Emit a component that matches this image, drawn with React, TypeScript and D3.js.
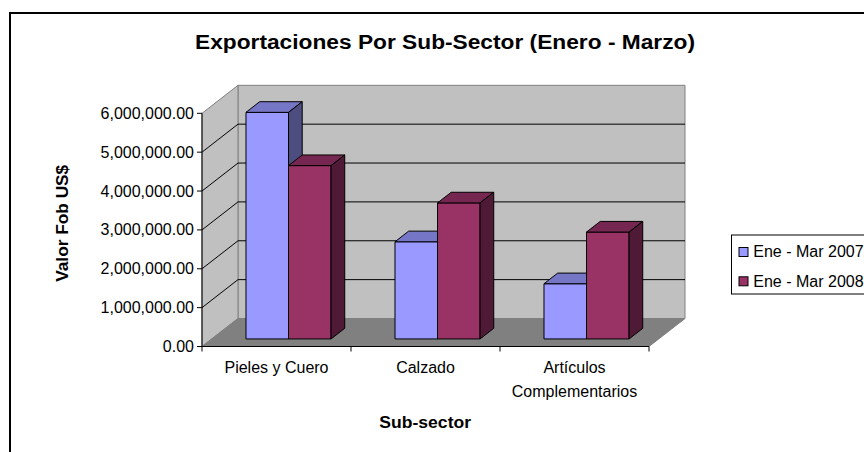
import React from "react";
import * as d3 from "d3";

const categories = ["Pieles y Cuero", "Calzado", "Artículos Complementarios"];
const categoryLines = [["Pieles y Cuero"], ["Calzado"], ["Artículos", "Complementarios"]];
const seriesNames = ["Ene - Mar 2007", "Ene - Mar 2008"];
const values2007 = [5830000, 2500000, 1420000];
const values2008 = [4460000, 3500000, 2750000];
const yTicks = [0, 1000000, 2000000, 3000000, 4000000, 5000000, 6000000];
const title = "Exportaciones Por Sub-Sector (Enero - Marzo)";
const yTitle = "Valor Fob US$";
const xTitle = "Sub-sector";

const FONT = "'Liberation Sans', Arial, sans-serif";
const W = 864;
const H = 452;

const frontLeft = 202;
const frontRight = 649;
const baseY = 346.5;
const topY = 113.3;
const DX = 36;
const DY = -28;
const Z0 = 0.27;
const Z1 = 0.65;

const seriesColors = [
  { front: "#9999FF", top: "#7676C6", side: "#4D4D80" },
  { front: "#993366", top: "#752752", side: "#4E1A35" },
];

export default function App() {
  const y = d3.scaleLinear().domain([0, 6000000]).range([baseY, topY]);
  const x0 = d3.scaleBand<string>().domain(categories).range([frontLeft, frontRight]).padding(0);
  const bw = x0.bandwidth();
  const x1 = d3
    .scaleBand<string>()
    .domain(seriesNames)
    .range([0.23 * bw, 0.23 * bw + 2 * 0.2855 * bw])
    .padding(0);
  const fmt = d3.format(",.2f");
  const series = [values2007, values2008];

  const p = (xv: number, v: number, z: number): [number, number] => [xv + z * DX, y(v) + z * DY];
  const poly = (pts: [number, number][]) => pts.map((q) => q.join(",")).join(" ");

  const backWall = poly([
    p(frontLeft, 0, 1),
    p(frontRight, 0, 1),
    p(frontRight, 6000000, 1),
    p(frontLeft, 6000000, 1),
  ]);
  const sideWall = poly([p(frontLeft, 0, 0), p(frontLeft, 0, 1), p(frontLeft, 6000000, 1), p(frontLeft, 6000000, 0)]);
  const floor = poly([p(frontLeft, 0, 0), p(frontRight, 0, 0), p(frontRight, 0, 1), p(frontLeft, 0, 1)]);

  const bars: JSX.Element[] = [];
  categories.forEach((c, ci) => {
    seriesNames.forEach((s, si) => {
      const v = series[si][ci];
      const a = (x0(c) as number) + (x1(s) as number);
      const b = a + x1.bandwidth();
      const col = seriesColors[si];
      bars.push(
        <g key={c + s} stroke="#000" strokeWidth={1} strokeLinejoin="round">
          <polygon points={poly([p(a, 0, Z0), p(b, 0, Z0), p(b, v, Z0), p(a, v, Z0)])} fill={col.front} />
          <polygon points={poly([p(a, v, Z0), p(b, v, Z0), p(b, v, Z1), p(a, v, Z1)])} fill={col.top} />
          <polygon points={poly([p(b, 0, Z0), p(b, 0, Z1), p(b, v, Z1), p(b, v, Z0)])} fill={col.side} />
        </g>
      );
    });
  });

  const catTicks = [...categories.map((c) => x0(c) as number), frontRight];

  return (
    <svg
      width={W}
      height={H}
      style={{ position: "absolute", left: 0, top: 0, background: "#fff" }}
      fontFamily={FONT}
    >
      <rect x={0} y={0} width={W} height={H} fill="#fff" />
      <rect x={10} y={13} width={900} height={500} fill="#fff" stroke="#000" strokeWidth={2} />

      <text x={445} y={49} textAnchor="middle" fontSize={20} fontWeight="bold" textLength={500} lengthAdjust="spacingAndGlyphs">
        {title}
      </text>

      {/* walls and floor */}
      <polygon points={backWall} fill="#C0C0C0" stroke="#808080" strokeWidth={1} />
      <polygon points={sideWall} fill="#C0C0C0" stroke="#808080" strokeWidth={1} />
      <polygon points={floor} fill="#808080" stroke="#808080" strokeWidth={1} />

      {/* gridlines */}
      {yTicks.slice(1, -1).map((t) => {
        const [bx1, by1] = p(frontLeft, t, 1);
        const [bx2, by2] = p(frontRight, t, 1);
        const [fx, fy] = p(frontLeft, t, 0);
        return (
          <g key={t}>
            <line x1={bx1} y1={by1} x2={bx2} y2={by2} stroke="#000" strokeWidth={1} />
            <line x1={fx} y1={fy} x2={bx1} y2={by1} stroke="#000" strokeWidth={1} />
          </g>
        );
      })}

      {bars}

      {/* axes */}
      <line x1={frontLeft} y1={y(0)} x2={frontLeft} y2={y(6000000)} stroke="#000" strokeWidth={1} />
      <line x1={frontLeft} y1={baseY} x2={frontRight} y2={baseY} stroke="#000" strokeWidth={1} />
      {yTicks.map((t) => (
        <g key={"yt" + t}>
          <line x1={frontLeft - 5} y1={y(t)} x2={frontLeft} y2={y(t)} stroke="#000" strokeWidth={1} />
          <text x={194} y={y(t) + 5.5} textAnchor="end" fontSize={16}>
            {fmt(t)}
          </text>
        </g>
      ))}
      {catTicks.map((cx, i) => (
        <line key={"xt" + i} x1={cx} y1={baseY} x2={cx} y2={baseY + 5} stroke="#000" strokeWidth={1} />
      ))}
      {categories.map((c, ci) => {
        const cx = (x0(c) as number) + bw / 2;
        return (
          <text key={"xl" + c} x={cx} textAnchor="middle" fontSize={16}>
            {categoryLines[ci].map((ln, li) => (
              <tspan key={li} x={cx} y={373.3 + li * 23.4}>
                {ln}
              </tspan>
            ))}
          </text>
        );
      })}

      <text x={425.2} y={428} textAnchor="middle" fontSize={17} fontWeight="bold" textLength={91.7} lengthAdjust="spacingAndGlyphs">
        {xTitle}
      </text>
      <text
        transform={`translate(67.5,223.3) rotate(-90)`}
        textAnchor="middle"
        fontSize={16}
        fontWeight="bold"
        textLength={117}
        lengthAdjust="spacingAndGlyphs"
      >
        {yTitle}
      </text>

      {/* legend */}
      <rect x={731.5} y={235} width={150} height={59} fill="#fff" stroke="#000" strokeWidth={1} />
      {seriesNames.map((s, si) => (
        <g key={"lg" + s}>
          <rect x={739} y={247.5 + si * 29.3} width={9} height={9} fill={seriesColors[si].front} stroke="#000" strokeWidth={1} />
          <text x={753.3} y={257.4 + si * 29.3} fontSize={16}>
            {s}
          </text>
        </g>
      ))}
    </svg>
  );
}
